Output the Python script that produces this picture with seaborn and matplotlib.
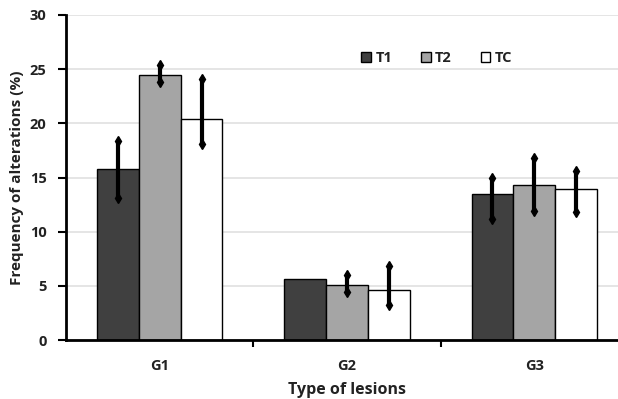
import matplotlib
matplotlib.use("Agg")
import matplotlib.pyplot as plt
import seaborn as sns
import pandas as pd
import numpy as np

groups = ["G1", "G2", "G3"]
treatments = ["T1", "T2", "TC"]
t1_vals = [15.8, 5.6, 13.5]
t2_vals = [24.5, 5.1, 14.3]
tc_vals = [20.4, 4.6, 13.9]
# error extents (lower, upper)
t1_err_lo = [2.7, 0.0, 2.3]
t1_err_hi = [2.6, 0.0, 1.5]
t2_err_lo = [0.7, 0.7, 2.4]
t2_err_hi = [0.9, 0.9, 2.5]
tc_err_lo = [2.3, 1.4, 2.1]
tc_err_hi = [3.7, 2.2, 1.7]
colors = ["#404040", "#a5a5a5", "#ffffff"]

df = pd.DataFrame({
    "group": groups * 3,
    "treatment": [t for t in treatments for _ in groups],
    "value": t1_vals + t2_vals + tc_vals,
})

sns.set_theme(style="white")
plt.rcParams["font.family"] = ["Open Sans", "DejaVu Sans"]
plt.rcParams["font.weight"] = "bold"

fig = plt.figure(figsize=(6.18, 3.99), dpi=100)
ax = fig.add_axes([66 / 618, (399 - 340) / 399, (628 - 66) / 618, (340 - 15) / 399])

sns.barplot(data=df, x="group", y="value", hue="treatment", order=groups,
            hue_order=treatments, palette=colors, width=0.67, gap=0,
            errorbar=None, edgecolor="black", linewidth=1.0, ax=ax)

errs = [(t1_err_lo, t1_err_hi), (t2_err_lo, t2_err_hi), (tc_err_lo, tc_err_hi)]
vals = [t1_vals, t2_vals, tc_vals]
for cont, (lo, hi), v in zip(ax.containers, errs, vals):
    xs = np.array([p.get_x() + p.get_width() / 2 for p in cont.patches])
    lo_a = np.array(lo); hi_a = np.array(hi); v_a = np.array(v)
    mask = (lo_a + hi_a) > 0
    ax.errorbar(xs[mask], v_a[mask], yerr=[lo_a[mask], hi_a[mask]], fmt="none",
                ecolor="black", elinewidth=3.0, capsize=0, zorder=5)
    ax.plot(xs[mask], (v_a + hi_a)[mask], linestyle="none", marker="d",
            markersize=5, color="black", zorder=6)
    ax.plot(xs[mask], (v_a - lo_a)[mask], linestyle="none", marker="d",
            markersize=5, color="black", zorder=6)

ax.set_ylim(0, 30)
ax.set_xlim(-0.5, 2.5)
ax.set_yticks(range(0, 31, 5))
ax.yaxis.grid(True, color="#e0e0e0", linewidth=1.2)
ax.set_axisbelow(True)
for s in ["top", "right"]:
    ax.spines[s].set_visible(False)
for s in ["left", "bottom"]:
    ax.spines[s].set_color("black")
    ax.spines[s].set_linewidth(2.0)

ax.tick_params(axis="y", which="major", left=True, length=6, width=1.5,
               direction="out", color="black", labelsize=10.5, pad=8)
ax.tick_params(axis="x", which="major", bottom=False, labelsize=10.5, pad=8)
ax.set_xticks([0.5, 1.5], minor=True)
ax.tick_params(axis="x", which="minor", bottom=True, length=5, width=1.5,
               direction="out", color="black")
for lab in ax.get_xticklabels() + ax.get_yticklabels():
    lab.set_fontweight("bold")
    lab.set_color("#222222")

ax.set_xlabel("Type of lesions", fontsize=11.5, fontweight="bold", color="#222222", labelpad=6)
ax.set_ylabel("Frequency of alterations (%)", fontsize=11, fontweight="bold", color="#222222", labelpad=4)

leg = ax.legend(loc="center", bbox_to_anchor=(0.66, 0.868), ncol=3, frameon=False,
                fontsize=10.5, handlelength=0.65, handleheight=0.65, columnspacing=2.0,
                handletextpad=0.3)
for t in leg.get_texts():
    t.set_fontweight("bold")
    t.set_color("#222222")

fig.savefig("out.png", dpi=100)
